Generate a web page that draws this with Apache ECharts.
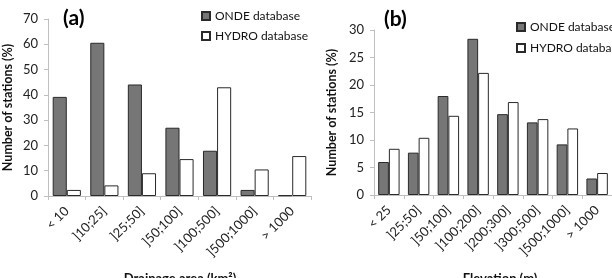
<!DOCTYPE html>
<html><head><meta charset="utf-8">
<script src="https://cdn.jsdelivr.net/npm/echarts@6/dist/echarts.min.js"></script>
<style>html,body{margin:0;padding:0;background:#fff}#c{width:612px;height:278px}</style>
</head><body><div id="c"></div>
<script>
const catsA = ['< 10', ']10;25]', ']25;50]', ']50;100]', ']100;500]', ']500;1000]', '> 1000'];
const ondeA = [39.2, 60.6, 44.1, 27.0, 17.9, 2.4, 0.3];
const hydroA = [2.4, 4.2, 9.0, 14.6, 43.0, 10.5, 15.8];
const catsB = ['< 25', ']25;50]', ']50;100]', ']100;200]', ']200;300]', ']300;500]', ']500;1000]', '> 1000'];
const ondeB = [6.0, 7.7, 18.0, 28.4, 14.7, 13.2, 9.2, 3.0];
const hydroB = [8.4, 10.4, 14.4, 22.2, 16.9, 13.8, 12.1, 4.0];
const ticksA = {min: 0, max: 70, interval: 10};
const ticksB = {min: 0, max: 30, interval: 5};

const FONT = 'Lato';
const gray = '#bfbfbf';
const chart = echarts.init(document.getElementById('c'), null, {renderer: 'canvas'});
function xAxis(idx, cats) {
  return {
    type: 'category', gridIndex: idx, data: cats,
    axisLine: {lineStyle: {color: gray, width: 1}},
    axisTick: {show: true, length: 4, lineStyle: {color: gray}},
    axisLabel: {rotate: 45, color: '#222', fontFamily: FONT, fontSize: 13, margin: 13, interval: 0}
  };
}
function yAxis(idx, t, gap) {
  return {
    type: 'value', gridIndex: idx, min: t.min, max: t.max, interval: t.interval,
    axisLine: {show: true, lineStyle: {color: gray}},
    axisTick: {show: true, length: 4, lineStyle: {color: gray}},
    splitLine: {show: false},
    axisLabel: {color: '#222', fontFamily: FONT, fontSize: 13, margin: 10},
    name: 'Number of stations (%)', nameLocation: 'middle', nameGap: gap, nameRotate: 90,
    nameTextStyle: {fontFamily: FONT, fontWeight: 'bold', fontSize: 12.5, color: '#111'}
  };
}
const ondeStyle = {color: '#767676', borderColor: '#2a2a2a', borderWidth: 1};
const hydroStyle = {color: '#ffffff', borderColor: '#2a2a2a', borderWidth: 1};
const legendBase = {
  orient: 'vertical', icon: 'rect', itemWidth: 8, itemHeight: 8, itemGap: 8, padding: 0,
  textStyle: {fontFamily: FONT, fontSize: 12, color: '#111'}
};
chart.setOption({
  animation: false,
  grid: [
    {left: 47, top: 19, width: 264, height: 177},
    {left: 374, top: 30, width: 256, height: 165}
  ],
  xAxis: [xAxis(0, catsA), xAxis(1, catsB)],
  yAxis: [yAxis(0, ticksA, 34), yAxis(1, ticksB, 36)],
  legend: [
    Object.assign({}, legendBase, {left: 201, top: 10, data: ['ONDE database', 'HYDRO database']}),
    Object.assign({}, legendBase, {left: 516, top: 21, itemGap: 9, data: ['ONDE database ', 'HYDRO database ']})
  ],
  graphic: [
    {type: 'text', left: 63, top: 8, style: {text: '(a)', font: 'bold 21px Lato', fill: '#000'}},
    {type: 'text', left: 384, top: 9, style: {text: '(b)', font: 'bold 21px Lato', fill: '#000'}},
    {type: 'text', x: 180, y: 272, style: {text: 'Drainage area (km²)', font: 'bold 13px Lato', fill: '#111', align: 'center', verticalAlign: 'top'}},
    {type: 'text', x: 500, y: 272, style: {text: 'Elevation (m)', font: 'bold 13px Lato', fill: '#111', align: 'center', verticalAlign: 'top'}}
  ],
  series: [
    {name: 'ONDE database', type: 'bar', xAxisIndex: 0, yAxisIndex: 0, data: ondeA, itemStyle: ondeStyle, barGap: '0%', barCategoryGap: '25%'},
    {name: 'HYDRO database', type: 'bar', xAxisIndex: 0, yAxisIndex: 0, data: hydroA, itemStyle: hydroStyle, barGap: '0%', barCategoryGap: '25%'},
    {name: 'ONDE database ', type: 'bar', xAxisIndex: 1, yAxisIndex: 1, data: ondeB, itemStyle: ondeStyle, barGap: '0%', barCategoryGap: '28%'},
    {name: 'HYDRO database ', type: 'bar', xAxisIndex: 1, yAxisIndex: 1, data: hydroB, itemStyle: hydroStyle, barGap: '0%', barCategoryGap: '28%'}
  ]
});
</script></body></html>
